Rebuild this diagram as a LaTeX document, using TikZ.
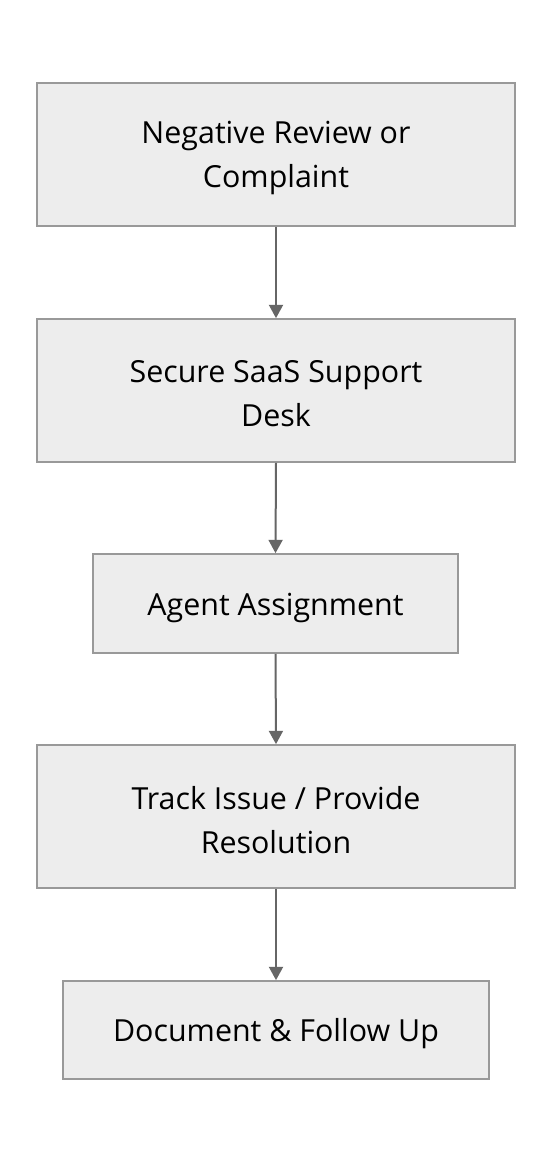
\documentclass[tikz,border=0pt]{standalone}
\usepackage{fontspec}
\setmainfont{Open Sans}
\usetikzlibrary{arrows.meta}
\begin{document}
\begin{tikzpicture}[x=0.75pt,y=-0.75pt,
  box/.style={draw=black!40,fill=black!7,line width=1.3pt,inner sep=0pt},
  txt/.style={inner sep=0pt,align=center,font=\fontsize{22.8}{33}\selectfont,text=black},
  conn/.style={draw=black!60,line width=1.5pt,-{Triangle[length=10pt,width=10.5pt]}}]
\useasboundingbox (0,0) rectangle (552,1164);
\fill[white] (0,0) rectangle (552,1164);
\node[box,minimum width=478*0.75pt,minimum height=143*0.75pt] (a) at (276,154.5) {};
\node[box,minimum width=478*0.75pt,minimum height=143*0.75pt] (b) at (276,390.5) {};
\node[box,minimum width=365*0.75pt,minimum height=99*0.75pt] (c) at (275.5,603.5) {};
\node[box,minimum width=478*0.75pt,minimum height=143*0.75pt] (d) at (276,816.5) {};
\node[box,minimum width=426*0.75pt,minimum height=98*0.75pt] (e) at (276,1030) {};
\node[txt] (ta) at ([yshift=-2.5pt]a.center) {Negative Review or\\Complaint};
\node[txt] (tb) at ([yshift=-2.5pt]b.center) {Secure SaaS Support\\Desk};
\node[txt] (tc) at ([yshift=-3pt]c.center) {Agent Assignment};
\node[txt] (td) at ([yshift=-2.5pt]d.center) {Track Issue / Provide\\Resolution};
\node[txt] (te) at ([yshift=-3pt]e.center) {Document \& Follow Up};
\draw[conn] (a.south) -- (b.north);
\draw[conn] (b.south) -- (c.north);
\draw[conn] (c.south) -- (d.north);
\draw[conn] (d.south) -- (e.north);
\end{tikzpicture}
\end{document}
